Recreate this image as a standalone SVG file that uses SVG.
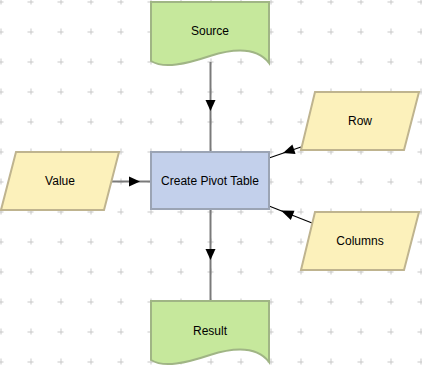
<svg xmlns="http://www.w3.org/2000/svg" width="422" height="368" viewBox="0 0 422 368">
<defs>
<pattern id="grid" patternUnits="userSpaceOnUse" x="-14.5" y="-13.5" width="30" height="30">
<path d="M12,15 H18 M15,12 V18" stroke="#c8c8c8" stroke-width="1" fill="none" shape-rendering="crispEdges"/>
</pattern>
</defs>
<style>
.doc{fill:#c6e89c;stroke:#a0b585;stroke-width:2}
.io{fill:#fcf1bb;stroke:#bfb48f;stroke-width:2}
.proc{fill:#c3d0eb;stroke:#9ba4b4;stroke-width:2}
.lbl{font-family:"Liberation Sans",Arial,sans-serif;font-size:12px;fill:#000;text-anchor:middle;dominant-baseline:central}
.main{stroke:#7a7a7a;stroke-width:2;fill:none}
.thin{stroke:#000;stroke-width:1.2;fill:none}
</style>
<rect width="422" height="368" fill="#fff"/>
<rect width="422" height="368" fill="url(#grid)"/>
<g id="connectors">
<line class="main" x1="210.5" y1="62" x2="210.5" y2="152"/>
<path d="M205.5,100 L215.5,100 L210.5,111 Z" fill="#000"/>
<line class="main" x1="210.5" y1="210" x2="210.5" y2="301"/>
<path d="M205.5,249 L215.5,249 L210.5,260 Z" fill="#000"/>
<line class="main" x1="111" y1="181.5" x2="151" y2="181.5" stroke-width="1.5"/>
<path d="M129,176.5 L129,186.5 L140,181.5 Z" fill="#000"/>
<line class="thin" x1="301" y1="147" x2="269" y2="158"/>
<line class="thin" x1="312" y1="223" x2="269" y2="206"/>
<path d="M283,153 L292.4,144.5 L295.6,153.9 Z" fill="#000"/>
<path d="M281,210.5 L294.5,210.8 L290.8,220 Z" fill="#000"/>
</g>
<g id="source">
<path class="doc" d="M151,2 L269,2 L269,63 C256,46 232,49 210,56 C186,64 164,69 151,61 Z"/>
<text class="lbl" x="210" y="31">Source</text>
</g>
<g id="create-pivot-table">
<rect class="proc" x="151" y="152" width="118" height="57"/>
<text class="lbl" x="210" y="181">Create Pivot Table</text>
</g>
<g id="value">
<path class="io" d="M16,152 L119,152 L104,210 L1,210 Z"/>
<text class="lbl" x="60" y="181">Value</text>
</g>
<g id="row">
<path class="io" d="M315,92 L419,92 L404,150 L301,150 Z"/>
<text class="lbl" x="360" y="121">Row</text>
</g>
<g id="columns">
<path class="io" d="M315,212 L419,212 L404,270 L301,270 Z"/>
<text class="lbl" x="360" y="241">Columns</text>
</g>
<g id="result">
<path class="doc" d="M151,301 L269,301 L269,362 C256,345 232,348 210,355 C186,363 164,368 151,360 Z"/>
<text class="lbl" x="210" y="331">Result</text>
</g>
</svg>
